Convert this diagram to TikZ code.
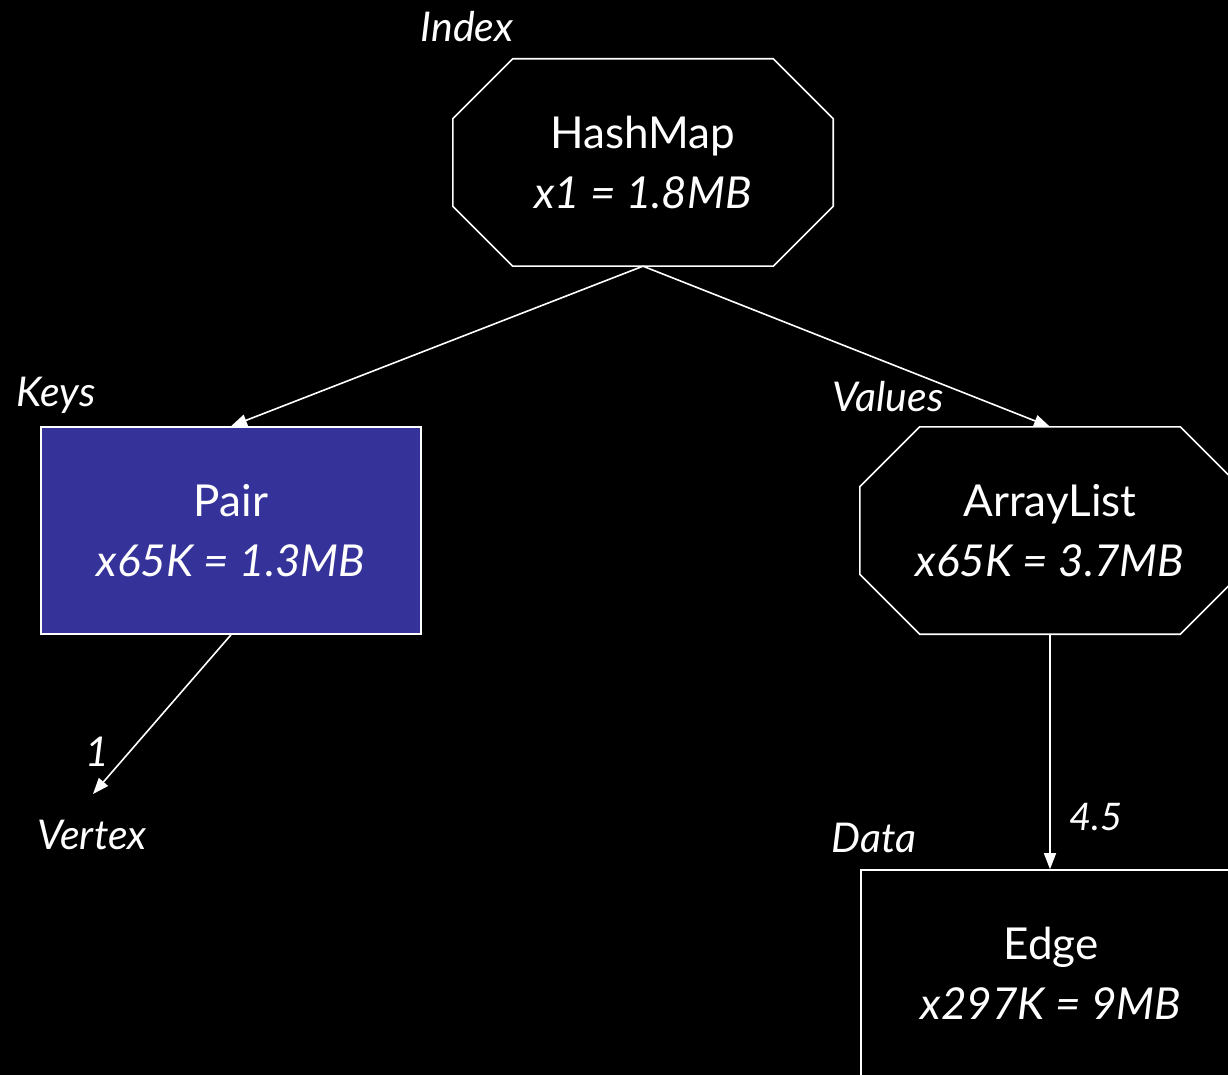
\documentclass[tikz,border=0pt]{standalone}
\usepackage{fontspec}
\setmainfont{Lato}
\usetikzlibrary{arrows.meta,calc}
\definecolor{pairblue}{HTML}{353399}
\newcommand{\boxfont}{\fontsize{44}{60}\selectfont}
\newcommand{\lblfont}{\fontsize{41}{44}\selectfont\itshape}

\begin{document}
\begin{tikzpicture}[x=1pt,y=-1pt,
  frame/.style={line width=1.6pt,draw=white},
  classbox/.style={minimum width=380pt,minimum height=207pt,inner sep=0pt,
    text=white,align=center,font=\boxfont},
  lbl/.style={text=white,font=\lblfont,inner sep=0pt},
  link/.style={draw=white,line width=1.6pt,-{Triangle[length=16pt,width=12pt]}}]

% canvas
\fill[black] (0,0) rectangle (1228,1075);
\useasboundingbox (0,0) rectangle (1228,1075);
\clip (0,0) rectangle (1228,1075);

% class nodes
\node[classbox] (hashmap) at (643,162.5) {HashMap\\\itshape x1 = 1.8MB};
\node[classbox,frame,fill=pairblue] (pair) at (231,530.5) {Pair\\\itshape x65K = 1.3MB};
\node[classbox] (arraylist) at (1050,530.5) {ArrayList\\\itshape x65K = 3.7MB};
\node[classbox,frame] (edge) at (1051,973.5) {Edge\\\itshape x297K = 9MB};

% octagonal outlines
\foreach \n in {hashmap,arraylist}
  \draw[frame] ([xshift=60pt]\n.north west) -- ([xshift=-60pt]\n.north east)
    -- ([yshift=-60pt]\n.north east) -- ([yshift=60pt]\n.south east)
    -- ([xshift=-60pt]\n.south east) -- ([xshift=60pt]\n.south west)
    -- ([yshift=60pt]\n.south west) -- ([yshift=-60pt]\n.north west) -- cycle;

% role labels
\node[lbl] (lindex) at (467,27) {Index};
\node[lbl] (lkeys) at (56,395) {Keys};
\node[lbl] (lvalues) at (888,397) {Values};
\node[lbl] (lvertex) at (92,835) {Vertex};
\node[lbl] (ldata) at (874,838) {Data};
\node[lbl] (lone) at (97,752) {1};
\node[lbl,font=\fontsize{38}{42}\selectfont\itshape] (lfour) at (1096,817) {4.5};

\coordinate (vtip) at (93,794);

% references
\draw[link] (hashmap.south) -- (pair.north);
\draw[link] (hashmap.south) -- (arraylist.north);
\draw[link] (pair.south) -- (vtip);
\draw[link] (arraylist.south) -- (arraylist.south |- edge.north);
\end{tikzpicture}
\end{document}
